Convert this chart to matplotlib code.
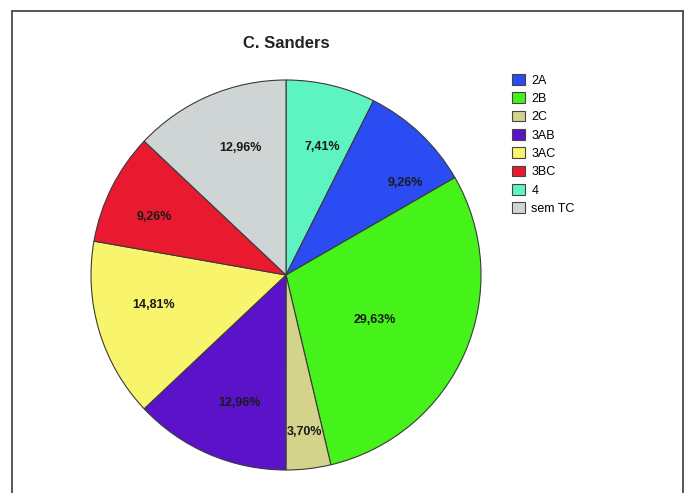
import matplotlib.pyplot as plt
import numpy as np

plt.rcParams["font.family"] = ["Liberation Sans", "DejaVu Sans"]

# ---------------------- Data ----------------------
categories = ["2A", "2B", "2C", "3AB", "3AC", "3BC", "4", "sem TC"]
percents = [9.26, 29.63, 3.70, 12.96, 14.81, 9.26, 7.41, 12.96]
labels = ["9,26%", "29,63%", "3,70%", "12,96%", "14,81%", "9,26%", "7,41%", "12,96%"]
colors = ["#2a4cf2", "#45f219", "#d3d38c", "#5b12c9", "#f8f56c",
          "#e91a2f", "#5ef4c2", "#cfd4d4"]
# order of slices clockwise from 12 o'clock
pie_order = [6, 0, 1, 2, 3, 4, 5, 7]
# label placement (fraction of radius, angle shift in degrees)
label_dist = [0.77, 0.51, 0.81, 0.70, 0.695, 0.735, 0.68, 0.69]
label_shift = [-9, -3.5, 0, 3.5, -4, 3, -2.5, -3.5]

# ---------------------- Figure ----------------------
W, H = 685, 493
fig = plt.figure(figsize=(W / 100, H / 100), dpi=100)

cx, cy, r = 286, 275, 195
ax = fig.add_axes([(cx - r) / W, (H - cy - r) / H, 2 * r / W, 2 * r / H])

wedges, _ = ax.pie([percents[i] for i in pie_order],
                   colors=[colors[i] for i in pie_order],
                   startangle=90, counterclock=False, radius=1.0,
                   wedgeprops=dict(edgecolor="#3a3a3a", linewidth=0.8))

for w, i in zip(wedges, pie_order):
    ang = np.deg2rad((w.theta1 + w.theta2) / 2 + label_shift[i])
    d = label_dist[i]
    ax.text(d * np.cos(ang), d * np.sin(ang), labels[i], ha="center", va="center",
            fontsize=9, fontweight="bold", color="#1a1a1a")

ax.set_xlim(-1, 1)
ax.set_ylim(-1, 1)
ax.set_aspect("equal")
ax.axis("off")

fig.text(cx / W, 1 - 43 / H, "C. Sanders", ha="center", va="center",
         fontsize=12, fontweight="bold", color="#222222")

handles = [plt.Rectangle((0, 0), 1, 1, facecolor=c, edgecolor="#444444", linewidth=0.8)
           for c in colors]
fig.legend(handles, categories, loc="upper left",
           bbox_to_anchor=(512 / W, 1 - 74 / H), frameon=False,
           fontsize=9, handlelength=1.05, handleheight=0.95,
           handletextpad=0.5, labelspacing=0.45, borderaxespad=0,
           borderpad=0)

# frame around the chart (no bottom edge)
fx0, fx1, fy = 11.5 / W, 682.5 / W, 1 - 10.5 / H
frame_kw = dict(color="#555555", linewidth=1.4, transform=fig.transFigure)
fig.add_artist(plt.Line2D([fx0, fx0], [0, fy], **frame_kw))
fig.add_artist(plt.Line2D([fx0, fx1], [fy, fy], **frame_kw))
fig.add_artist(plt.Line2D([fx1, fx1], [fy, 0], **frame_kw))

plt.savefig("out.png", dpi=100)
plt.close()
